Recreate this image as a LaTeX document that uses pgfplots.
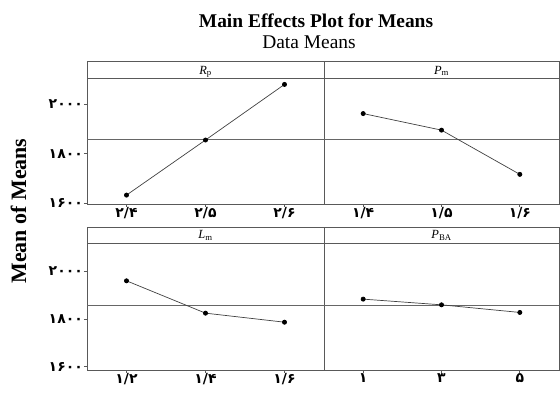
\documentclass[border=0pt]{standalone}
\usepackage{fontspec}
\setmainfont{Liberation Serif}
\newfontfamily\fa{DejaVu Sans}
\usepackage{pgfplots}
\pgfplotsset{compat=1.18}
\begin{document}
\begin{tikzpicture}
\path[use as bounding box] (0bp,0bp) rectangle (560bp,394bp);
\pgfplotsset{
  panel/.style={scale only axis,
    axis line style={draw=black!65, line width=0.9pt},
    xmin=0.5, xmax=3.5, xtick={1,2,3},
    tick align=outside, major tick length=3bp,
    tick style={draw=black!65, line width=0.8pt},
    xticklabel style={font=\fa\bfseries\fontsize{14}{14}\selectfont, inner sep=0.5bp},
    yticklabel style={font=\fa\bfseries\fontsize{14}{14}\selectfont, inner sep=1bp},
    ytick={1600,1800,2000},
    clip=false},
  lpanel/.style={panel, yticklabels={۱۶۰۰,۱۸۰۰,۲۰۰۰}, ytick pos=left, xtick pos=bottom},
  rpanel/.style={panel, yticklabels={}, ytick=\empty, xtick pos=bottom},
  meanline/.style={black!60, line width=0.8pt, no marks},
  data/.style={black!75, line width=0.7pt, mark=*, mark size=2.1pt, mark options={fill=black, draw=black}},
}
% top left
\begin{axis}[lpanel, name=tl, at={(87bp,190bp)}, anchor=south west, width=237bp, height=126bp,
  ymin=1596, ymax=2106, xticklabels={۲/۴,۲/۵,۲/۶}]
\addplot[meanline] coordinates {(0.5,1857) (3.5,1857)};
\addplot[data] coordinates {(1,1632) (2,1855) (3,2080)};
\end{axis}
% top right
\begin{axis}[rpanel, name=tr, at={(324bp,190bp)}, anchor=south west, width=235bp, height=126bp,
  ymin=1596, ymax=2106, xticklabels={۱/۴,۱/۵,۱/۶}]
\addplot[meanline] coordinates {(0.5,1857) (3.5,1857)};
\addplot[data] coordinates {(1,1962) (2,1895) (3,1716)};
\end{axis}
% bottom left
\begin{axis}[lpanel, name=bl, at={(87bp,24bp)}, anchor=south west, width=237bp, height=127bp,
  ymin=1586, ymax=2120, xticklabels={۱/۲,۱/۴,۱/۶}]
\addplot[meanline] coordinates {(0.5,1857) (3.5,1857)};
\addplot[data] coordinates {(1,1961) (2,1825) (3,1787)};
\end{axis}
% bottom right
\begin{axis}[rpanel, name=br, at={(324bp,24bp)}, anchor=south west, width=235bp, height=127bp,
  ymin=1586, ymax=2120, xticklabels={۱,۳,۵}]
\addplot[meanline] coordinates {(0.5,1857) (3.5,1857)};
\addplot[data] coordinates {(1,1884) (2,1860) (3,1828)};
\end{axis}
% strips
\foreach \n/\h in {tl/17,tr/17,bl/16,br/16}{
  \draw[black!65, line width=0.9pt] (\n.north west) rectangle ([yshift=\h bp]\n.north east);
}
\node[font=\fontsize{12.5}{12}\selectfont, anchor=base] at ([yshift=4bp]tl.north) {\textit{R}\textsubscript{p}};
\node[font=\fontsize{12.5}{12}\selectfont, anchor=base] at ([yshift=4bp]tr.north) {\textit{P}\textsubscript{m}};
\node[font=\fontsize{12.5}{12}\selectfont, anchor=base] at ([yshift=4bp]bl.north) {\textit{L}\textsubscript{m}};
\node[font=\fontsize{12.5}{12}\selectfont, anchor=base] at ([yshift=4bp]br.north) {\textit{P}\textsubscript{BA}};
% titles
\node[font=\bfseries\fontsize{19.5}{20}\selectfont, anchor=base] at (316bp,366bp) {Main Effects Plot for Means};
\node[font=\fontsize{19.5}{20}\selectfont, anchor=base] at (309bp,345bp) {Data Means};
\node[font=\bfseries\fontsize{22}{22}\selectfont, anchor=base, rotate=90] at (26bp,183bp) {Mean of Means};
\end{tikzpicture}
\end{document}
